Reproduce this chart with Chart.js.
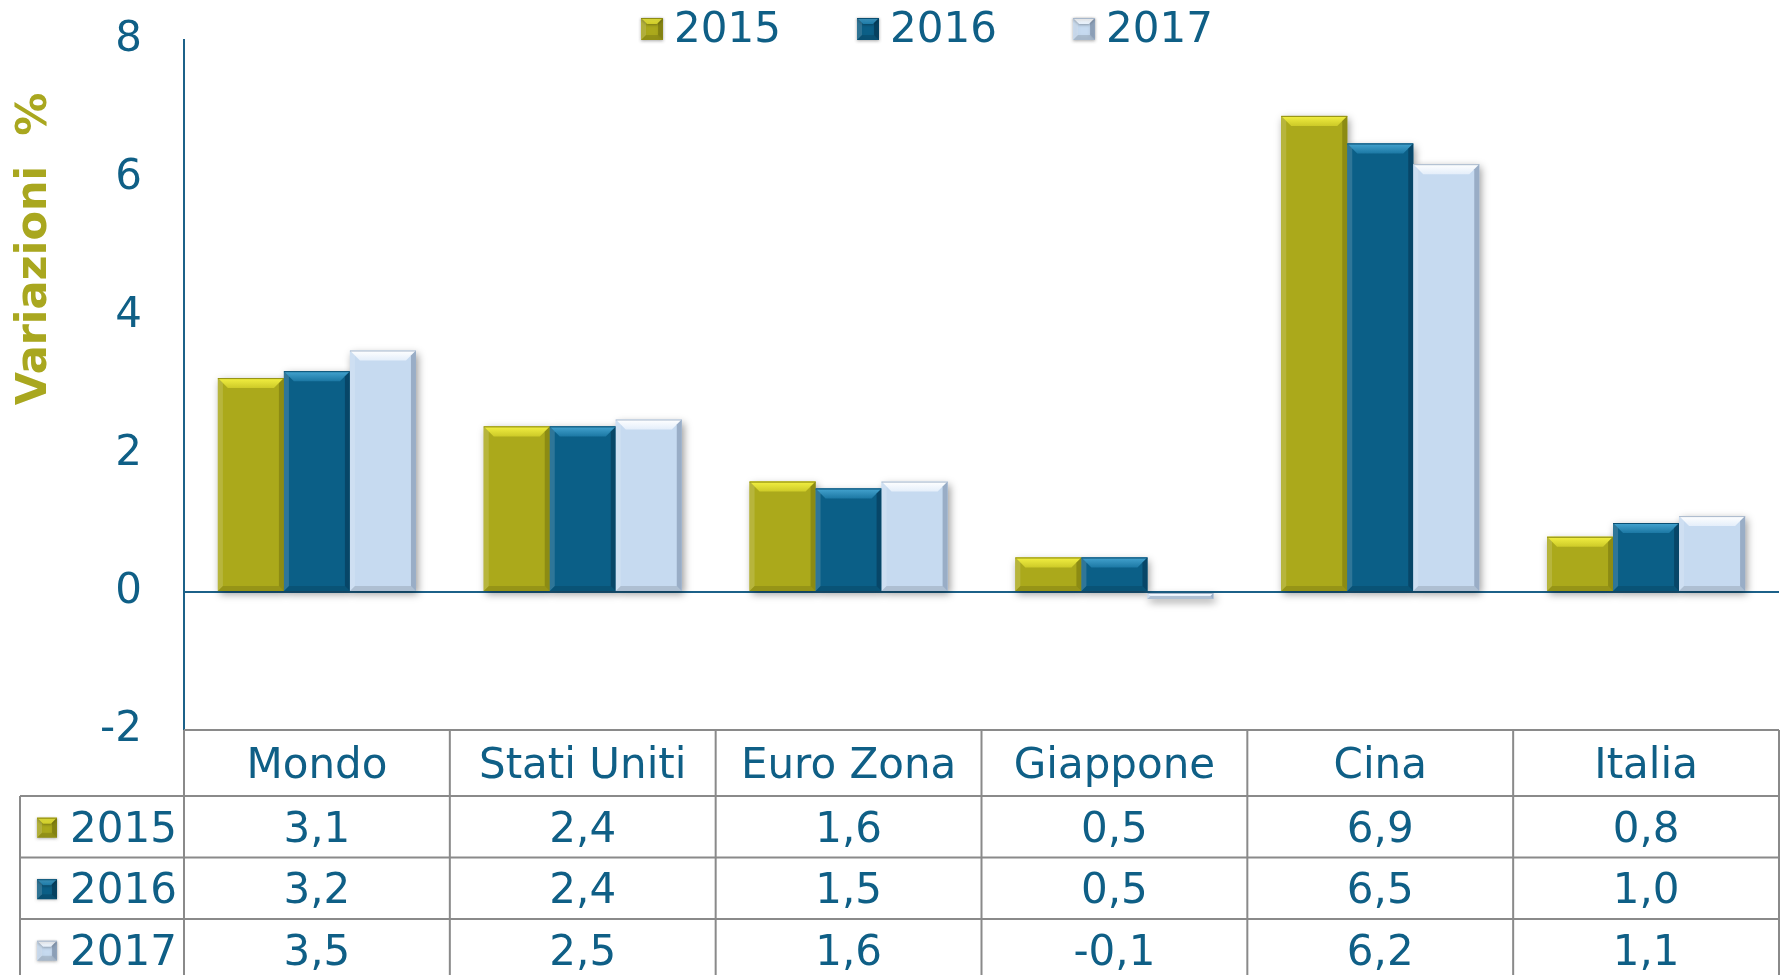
<!DOCTYPE html>
<html>
<head>
<meta charset="utf-8">
<script src="https://cdn.jsdelivr.net/npm/chart.js@4.4.0/dist/chart.umd.min.js"></script>
<style>
  html, body { margin: 0; padding: 0; background: #fff; }
  #wrap { width: 1786px; height: 975px; position: relative; }
</style>
</head>
<body>
<div id="wrap"><canvas id="growthChart"></canvas></div>
<script>
// data
const categories = ["Mondo", "Stati Uniti", "Euro Zona", "Giappone", "Cina", "Italia"];
const years = ["2015", "2016", "2017"];
const values2015 = [3.1, 2.4, 1.6, 0.5, 6.9, 0.8];
const values2016 = [3.2, 2.4, 1.5, 0.5, 6.5, 1.0];
const values2017 = [3.5, 2.5, 1.6, -0.1, 6.2, 1.1];
const yMin = -2;
const yMax = 8;
const yStep = 2;
const yTitle = "Variazioni  %";

const FONT = '"DejaVu Sans", Verdana, sans-serif';
const textBlue = "#0f5f86";
const axisBlue = "#1c6189";
const tableGray = "#8a8a8a";
const fills = ["#aba91b", "#0b5f87", "#c6daf0"];
const bevelLight = ["#f3f042", "#45a4d0", "#ffffff"];
const bevelMid = ["#cdca28", "#1c78a4", "#e4eefa"];
const edgeDark = ["#8e8c12", "#0a4f72", "#a7b7cb"];
const sideDark = ["rgba(60,60,0,0.28)", "rgba(0,25,45,0.35)", "rgba(70,90,120,0.35)"];

// little bevelled box like the office-style bars
function bevelBox(ctx, i, left, top, right, bottom, s) {
  const h = bottom - top;
  s = Math.min(s, h / 2, (right - left) / 2);
  ctx.fillStyle = fills[i];
  ctx.fillRect(left, top, right - left, h);
  // top bevel
  const g = ctx.createLinearGradient(0, top, 0, top + s);
  g.addColorStop(0, bevelLight[i]);
  g.addColorStop(1, bevelMid[i]);
  ctx.fillStyle = g;
  ctx.beginPath();
  ctx.moveTo(left, top);
  ctx.lineTo(right, top);
  ctx.lineTo(right - s, top + s);
  ctx.lineTo(left + s, top + s);
  ctx.closePath();
  ctx.fill();
  // right side darker
  const sw = Math.min(5, s);
  ctx.fillStyle = sideDark[i];
  ctx.beginPath();
  ctx.moveTo(right, top);
  ctx.lineTo(right, bottom);
  ctx.lineTo(right - sw, bottom - sw);
  ctx.lineTo(right - sw, top + sw);
  ctx.closePath();
  ctx.fill();
  // left side lighter
  ctx.fillStyle = "rgba(255,255,255,0.15)";
  ctx.beginPath();
  ctx.moveTo(left, top);
  ctx.lineTo(left + sw, top + sw);
  ctx.lineTo(left + sw, bottom - sw);
  ctx.lineTo(left, bottom);
  ctx.closePath();
  ctx.fill();
  // bottom edge darker
  ctx.fillStyle = "rgba(0,0,0,0.12)";
  ctx.beginPath();
  ctx.moveTo(left, bottom);
  ctx.lineTo(right, bottom);
  ctx.lineTo(right - sw, bottom - sw);
  ctx.lineTo(left + sw, bottom - sw);
  ctx.closePath();
  ctx.fill();
  // thin outline on the top edge
  ctx.strokeStyle = edgeDark[i];
  ctx.lineWidth = 1;
  ctx.beginPath();
  ctx.moveTo(left, top + 0.5);
  ctx.lineTo(right, top + 0.5);
  ctx.stroke();
}

function fmt(v) {
  return v.toFixed(1).replace(".", ",");
}

function barRect(el) {
  return {
    left: el.x - el.width / 2,
    right: el.x + el.width / 2,
    top: Math.min(el.y, el.base),
    bottom: Math.max(el.y, el.base)
  };
}

// soft shadows first, then bevels over the bars
const barLook = {
  id: "barLook",
  beforeDatasetsDraw(chart) {
    const ctx = chart.ctx;
    ctx.save();
    ctx.shadowColor = "rgba(0,0,0,0.4)";
    ctx.shadowBlur = 8;
    ctx.shadowOffsetX = 10000 + 2;
    ctx.shadowOffsetY = 3;
    ctx.fillStyle = "#000";
    chart.data.datasets.forEach((ds, i) => {
      chart.getDatasetMeta(i).data.forEach(el => {
        const r = barRect(el);
        ctx.fillRect(r.left - 10000, r.top, r.right - r.left, r.bottom - r.top);
      });
    });
    ctx.restore();
  },
  afterDatasetsDraw(chart) {
    const ctx = chart.ctx;
    chart.data.datasets.forEach((ds, i) => {
      chart.getDatasetMeta(i).data.forEach(el => {
        const r = barRect(el);
        ctx.save();
        bevelBox(ctx, i, r.left, r.top, r.right, r.bottom, 10);
        ctx.restore();
      });
    });
  }
};

// legend, y title and the data table under the plot
const extras = {
  id: "extras",
  afterDraw(chart) {
    const ctx = chart.ctx;
    const area = chart.chartArea;
    const xs = chart.scales.x;
    const catW = (area.right - area.left) / categories.length;
    const series = [values2015, values2016, values2017];

    ctx.save();
    // legend
    ctx.font = "42px " + FONT;
    ctx.textBaseline = "middle";
    ctx.textAlign = "left";
    years.forEach((y, i) => {
      const x0 = 641 + i * 216;
      ctx.save();
      ctx.shadowColor = "rgba(0,0,0,0.3)";
      ctx.shadowBlur = 3;
      ctx.shadowOffsetY = 1;
      bevelBox(ctx, i, x0, 18, x0 + 22, 40, 6);
      ctx.restore();
      ctx.fillStyle = textBlue;
      ctx.fillText(y, x0 + 33, 31);
    });

    // y title
    ctx.save();
    ctx.translate(35, 249);
    ctx.rotate(-Math.PI / 2);
    ctx.font = "bold 43px " + FONT;
    ctx.fillStyle = "#a9a71f";
    ctx.textAlign = "center";
    ctx.fillText(yTitle, 0, 0);
    ctx.restore();

    // table grid
    const headTop = area.bottom;
    const headH = 66;
    const rowH = 61.5;
    const tableLeft = 20;
    ctx.strokeStyle = tableGray;
    ctx.lineWidth = 2;
    ctx.beginPath();
    ctx.moveTo(area.left, headTop);
    ctx.lineTo(area.right, headTop);
    for (let r = 0; r < 3; r++) {
      const y = headTop + headH + r * rowH;
      ctx.moveTo(tableLeft, y);
      ctx.lineTo(area.right, y);
    }
    for (let c = 0; c <= categories.length; c++) {
      const x = area.left + c * catW;
      ctx.moveTo(x, headTop);
      ctx.lineTo(x, chart.height);
    }
    ctx.moveTo(tableLeft, headTop + headH);
    ctx.lineTo(tableLeft, chart.height);
    ctx.stroke();

    // table rows
    ctx.font = "42px " + FONT;
    series.forEach((vals, r) => {
      const cy = headTop + headH + r * rowH + rowH / 2;
      ctx.save();
      ctx.shadowColor = "rgba(0,0,0,0.3)";
      ctx.shadowBlur = 3;
      ctx.shadowOffsetY = 1;
      bevelBox(ctx, r, 37, cy - 9, 57, cy + 11, 6);
      ctx.restore();
      ctx.fillStyle = textBlue;
      ctx.textAlign = "left";
      ctx.fillText(years[r], 70, cy + 4);
      ctx.textAlign = "center";
      vals.forEach((v, c) => {
        ctx.fillText(fmt(v), xs.getPixelForValue(c), cy + 4);
      });
    });
    ctx.restore();
  }
};

const ctx = document.getElementById("growthChart").getContext("2d");

new Chart(ctx, {
  type: "bar",
  data: {
    labels: categories,
    datasets: [
      { label: years[0], data: values2015, backgroundColor: fills[0] },
      { label: years[1], data: values2016, backgroundColor: fills[1] },
      { label: years[2], data: values2017, backgroundColor: fills[2] }
    ]
  },
  options: {
    responsive: true,
    maintainAspectRatio: false,
    animation: false,
    layout: { padding: { top: 40, right: 7, left: 0, bottom: 0 } },
    datasets: {
      bar: { categoryPercentage: 0.745, barPercentage: 1.0, borderWidth: 0 }
    },
    scales: {
      x: {
        grid: { display: false },
        border: { display: false },
        ticks: {
          color: textBlue,
          font: { size: 42, family: FONT },
          padding: 4,
          maxRotation: 0,
          autoSkip: false
        },
        afterFit(scale) { scale.height = 245; }
      },
      y: {
        min: yMin,
        max: yMax,
        ticks: {
          stepSize: yStep,
          color: textBlue,
          font: { size: 42, family: FONT },
          padding: 42
        },
        grid: {
          drawTicks: false,
          lineWidth: 2,
          color: c => (c.tick && c.tick.value === 0 ? axisBlue : "rgba(0,0,0,0)")
        },
        border: { display: true, color: axisBlue, width: 2 },
        afterFit(scale) {
          scale.width = 184;
          scale.paddingTop = 0;
          scale.paddingBottom = 0;
        }
      }
    },
    plugins: {
      legend: { display: false },
      tooltip: { enabled: false }
    }
  },
  plugins: [barLook, extras]
});
</script>
</body>
</html>
